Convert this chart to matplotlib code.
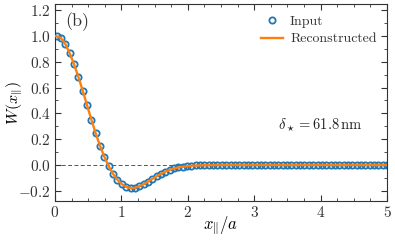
import numpy as np
import matplotlib
matplotlib.use("Agg")
import matplotlib.pyplot as plt
from matplotlib.ticker import MultipleLocator

plt.rcParams['font.family'] = 'serif'
plt.rcParams['font.serif'] = ['cmr10', 'DejaVu Serif']
plt.rcParams['mathtext.fontset'] = 'cm'
plt.rcParams['axes.formatter.use_mathtext'] = True
plt.rcParams['axes.unicode_minus'] = True

# Data
x_input = np.linspace(0.025, 5.0, 77)
w_input = [0.997, 0.985, 0.938, 0.868, 0.782, 0.684, 0.577, 0.464, 0.352,
           0.245, 0.148, 0.062, -0.011, -0.070, -0.115, -0.148, -0.169, -0.180,
           -0.176, -0.166, -0.150, -0.130, -0.108, -0.088, -0.069, -0.052,
           -0.038, -0.027, -0.019, -0.013, -0.009, -0.006, -0.004, -0.003,
           -0.002, -0.001, -0.001,
           0.0, 0.0, 0.0, 0.0, 0.0, 0.0, 0.0, 0.0, 0.0, 0.0,
           0.0, 0.0, 0.0, 0.0, 0.0, 0.0, 0.0, 0.0, 0.0, 0.0,
           0.0, 0.0, 0.0, 0.0, 0.0, 0.0, 0.0, 0.0, 0.0, 0.0,
           0.0, 0.0, 0.0, 0.0, 0.0, 0.0, 0.0, 0.0, 0.0, 0.0]
x_rec = np.concatenate([[0.0], x_input])
w_rec = [1.0] + w_input

fig = plt.figure(figsize=(3.95, 2.42), dpi=100)
ax = fig.add_axes([0.139, 0.169, 0.841, 0.813])

ax.axhline(0, color='#555555', ls=(0, (4, 2.5)), lw=0.7, zorder=1)
ax.plot(x_input, w_input, 'o', mfc='none', mec='#1f77b4', ms=4.5, mew=1.3,
        label='Input', zorder=2)
ax.plot(x_rec, w_rec, '-', color='#ff7f0e', lw=1.7, label='Reconstructed', zorder=3)

ax.set_xlim(0, 5)
ax.set_ylim(-0.28, 1.245)
ax.xaxis.set_major_locator(MultipleLocator(1))
ax.xaxis.set_minor_locator(MultipleLocator(0.25))
ax.yaxis.set_major_locator(MultipleLocator(0.2))
ax.yaxis.set_minor_locator(MultipleLocator(0.1))
ax.tick_params(which='both', direction='in', top=True, right=True, labelsize=11,
               colors='#333333', labelcolor='#333333')
ax.tick_params(which='major', length=4, width=0.8, pad=3)
ax.tick_params(which='minor', length=2, width=0.6)
for s in ax.spines.values():
    s.set_color('#333333')
    s.set_linewidth(0.8)

ax.set_xlabel(r'$x_{\|}/a$', fontsize=12)
ax.xaxis.set_label_coords(0.5, -0.07)
ax.xaxis.label.set_va('top')
ax.set_ylabel(r'$W(x_{\|})$', fontsize=11.5)
ax.yaxis.set_label_coords(-0.092, 0.5)

ax.text(0.03, 0.958, '(b)', transform=ax.transAxes, fontsize=13, va='top',
        ha='left', color='#333333')
ax.text(0.925, 0.385, r'$\delta_\star = 61.8\,\mathrm{nm}$', transform=ax.transAxes,
        fontsize=10.5, ha='right', va='center', color='#222222')

leg = ax.legend(loc='upper right', bbox_to_anchor=(0.998, 0.995), frameon=False,
                fontsize=10, handlelength=1.6, handletextpad=0.5,
                borderaxespad=0.3, labelspacing=0.35)
for t in leg.get_texts():
    t.set_color('#333333')

fig.savefig('out.png', dpi=100)
